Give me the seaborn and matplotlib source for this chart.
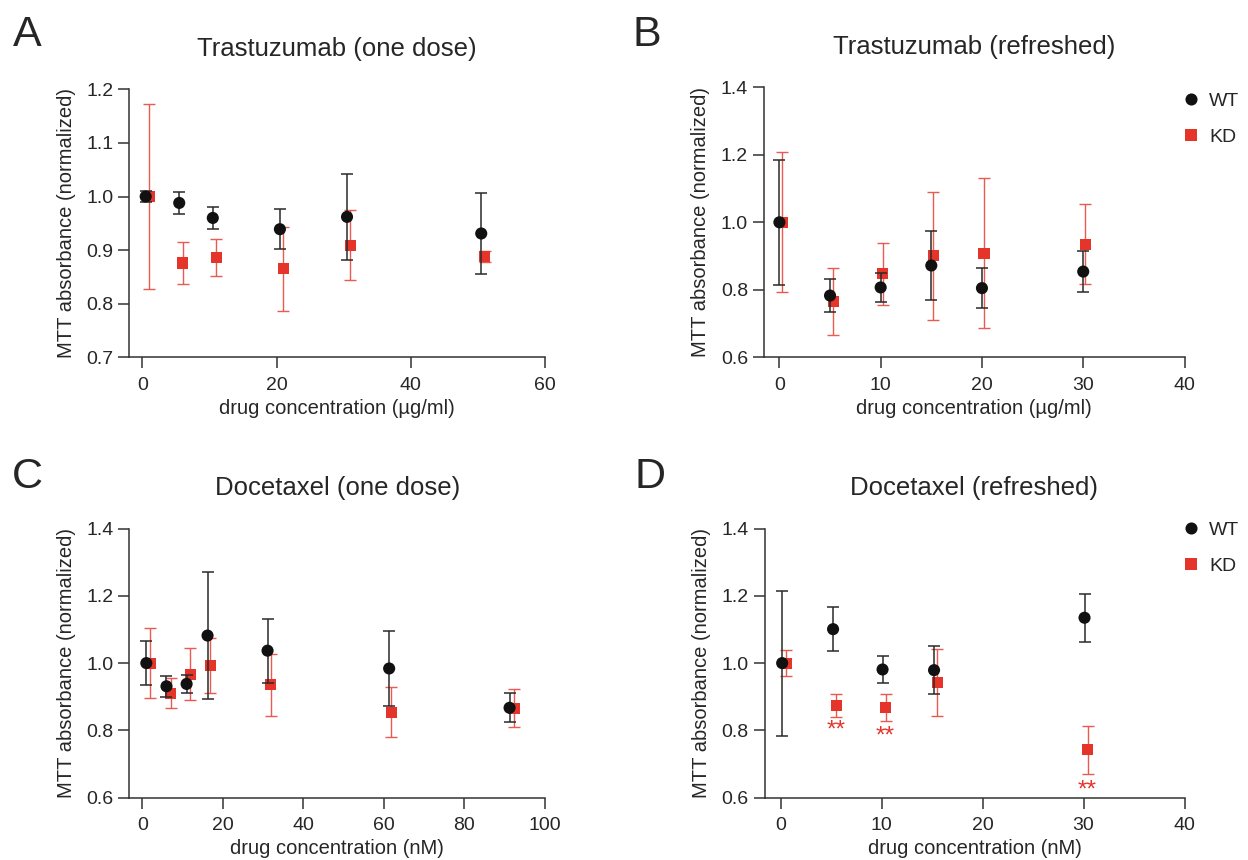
import matplotlib
matplotlib.use('Agg')
import matplotlib.pyplot as plt
import numpy as np
import pandas as pd
import seaborn as sns
from matplotlib.lines import Line2D

# A: Trastuzumab (one dose)
a_wt_x = [0.5, 5.5, 10.5, 20.5, 30.5, 50.5]
a_wt_y = [1.000, 0.988, 0.960, 0.939, 0.962, 0.931]
a_wt_err = [0.010, 0.020, 0.020, 0.037, 0.080, 0.076]
a_kd_x = [1, 6, 11, 21, 31, 51]
a_kd_y = [1.000, 0.876, 0.886, 0.865, 0.909, 0.888]
a_kd_err = [0.172, 0.040, 0.034, 0.079, 0.065, 0.010]

# B: Trastuzumab (refreshed)
b_wt_x = [0, 5, 10, 15, 20, 30]
b_wt_y = [1.000, 0.783, 0.807, 0.872, 0.805, 0.854]
b_wt_err = [0.186, 0.050, 0.042, 0.103, 0.060, 0.060]
b_kd_x = [0.3, 5.3, 10.2, 15.2, 20.2, 30.2]
b_kd_y = [1.000, 0.765, 0.847, 0.901, 0.908, 0.935]
b_kd_err = [0.207, 0.099, 0.092, 0.190, 0.222, 0.118]

# C: Docetaxel (one dose)
c_wt_x = [1, 6, 11, 16.2, 31.1, 61.3, 91.2]
c_wt_y = [1.000, 0.931, 0.938, 1.082, 1.037, 0.984, 0.867]
c_wt_err = [0.065, 0.032, 0.028, 0.190, 0.095, 0.111, 0.043]
c_kd_x = [2, 7.1, 11.9, 16.9, 31.9, 61.8, 92.3]
c_kd_y = [1.000, 0.910, 0.967, 0.993, 0.935, 0.854, 0.866]
c_kd_err = [0.104, 0.045, 0.078, 0.081, 0.092, 0.074, 0.057]

# D: Docetaxel (refreshed)
d_wt_x = [0.16, 5.2, 10.1, 15.2, 30.1]
d_wt_y = [1.000, 1.101, 0.981, 0.979, 1.135]
d_wt_err = [0.216, 0.066, 0.041, 0.071, 0.072]
d_kd_x = [0.55, 5.5, 10.4, 15.5, 30.4]
d_kd_y = [1.000, 0.875, 0.868, 0.943, 0.742]
d_kd_err = [0.039, 0.034, 0.040, 0.099, 0.071]
d_star_idx = [1, 2, 4]
d_star_y = [0.800, 0.781, 0.621]

titles = ['Trastuzumab (one dose)', 'Trastuzumab (refreshed)',
          'Docetaxel (one dose)', 'Docetaxel (refreshed)']
letters = ['A', 'B', 'C', 'D']
xlabels = ['drug concentration (µg/ml)', 'drug concentration (µg/ml)',
           'drug concentration (nM)', 'drug concentration (nM)']
ylabel = 'MTT absorbance (normalized)'

WT_COL = '#111111'
KD_COL = '#E5352B'
KD_ERR = '#EA5A50'


def make_df(wx, wy, we, kx, ky, ke):
    wt = pd.DataFrame({'conc': wx, 'mtt': wy, 'err': we, 'group': 'WT'})
    kd = pd.DataFrame({'conc': kx, 'mtt': ky, 'err': ke, 'group': 'KD'})
    return pd.concat([wt, kd], ignore_index=True)


panels = [
    make_df(a_wt_x, a_wt_y, a_wt_err, a_kd_x, a_kd_y, a_kd_err),
    make_df(b_wt_x, b_wt_y, b_wt_err, b_kd_x, b_kd_y, b_kd_err),
    make_df(c_wt_x, c_wt_y, c_wt_err, c_kd_x, c_kd_y, c_kd_err),
    make_df(d_wt_x, d_wt_y, d_wt_err, d_kd_x, d_kd_y, d_kd_err),
]

sns.set_style('ticks')
plt.rcParams['font.family'] = ['Liberation Sans', 'DejaVu Sans']

fig = plt.figure(figsize=(12.48, 8.6), dpi=100)
W, H = 1248, 860

# axes boxes in pixels: left, right, top, bottom
boxes = [(129.3, 545.0, 89.3, 357.3),
         (764.0, 1184.5, 87.3, 357.3),
         (129.3, 545.0, 528.7, 797.5),
         (764.5, 1184.5, 528.7, 797.5)]
xlims = [(-1.94, 60), (-1.52, 40), (-3.23, 100), (-1.59, 40)]
ylims = [(0.7, 1.2), (0.6, 1.4), (0.6, 1.4), (0.6, 1.4)]
xticks = [np.arange(0, 61, 20), np.arange(0, 41, 10), np.arange(0, 101, 20), np.arange(0, 41, 10)]
yticks = [np.arange(0.7, 1.21, 0.1), np.arange(0.6, 1.41, 0.2), np.arange(0.6, 1.41, 0.2), np.arange(0.6, 1.41, 0.2)]
letter_pos = [(13, 46), (632, 46), (12, 488), (634, 488)]

axes = []
for i, df in enumerate(panels):
    l, r, t, b = boxes[i]
    ax = fig.add_axes([l / W, (H - b) / H, (r - l) / W, (b - t) / H])
    axes.append(ax)
    kd = df[df.group == 'KD']
    wt = df[df.group == 'WT']
    ax.errorbar(kd.conc, kd.mtt, yerr=kd.err, fmt='none', ecolor=KD_ERR,
                elinewidth=1.0, capsize=4.5, capthick=1.0, zorder=2)
    sns.scatterplot(data=kd, x='conc', y='mtt', marker='s', color=KD_COL,
                    s=64, edgecolor='none', ax=ax, zorder=3, legend=False)
    ax.errorbar(wt.conc, wt.mtt, yerr=wt.err, fmt='none', ecolor='#2a2a2a',
                elinewidth=1.1, capsize=4.5, capthick=1.1, zorder=4)
    sns.scatterplot(data=wt, x='conc', y='mtt', marker='o', color=WT_COL,
                    s=76, edgecolor='none', ax=ax, zorder=5, legend=False)

    ax.set_xlim(xlims[i])
    ax.set_ylim(ylims[i])
    ax.set_xticks(xticks[i])
    ax.set_yticks(yticks[i])
    ax.set_yticklabels([f'{v:.1f}' for v in yticks[i]])
    ax.tick_params(axis='both', labelsize=14, length=8, width=1.1, color='#333333')
    ax.tick_params(axis='x', pad=6)
    ax.tick_params(axis='y', pad=3.5)
    for s in ['left', 'bottom']:
        ax.spines[s].set_color('#333333')
        ax.spines[s].set_linewidth(1.1)
    sns.despine(ax=ax)
    ax.set_xlabel(xlabels[i], fontsize=14.5, labelpad=3.5)
    ax.set_ylabel(ylabel, fontsize=14.5, labelpad=7.5)
    ax.set_title(titles[i], fontsize=18.5, pad=24)
    lx, ly = letter_pos[i]
    fig.text(lx / W, (H - ly) / H, letters[i], fontsize=31, ha='left', va='baseline')

# significance stars on panel D
for j, yv in zip(d_star_idx, d_star_y):
    axes[3].text(d_kd_x[j], yv, '**', color=KD_COL, fontsize=17.5,
                 ha='center', va='center')

# legends for refreshed panels
handles = [Line2D([], [], marker='o', ls='none', color=WT_COL, markersize=8.7, markeredgewidth=0),
           Line2D([], [], marker='s', ls='none', color=KD_COL, markersize=8.0, markeredgewidth=0)]
for i, ytop in [(1, 92), (3, 521)]:
    axes[i].legend(handles, ['WT', 'KD'], loc='upper left',
                   bbox_to_anchor=(1183 / W, (H - ytop) / H),
                   bbox_transform=fig.transFigure, frameon=False, fontsize=14,
                   handlelength=0.8, handletextpad=0.55, labelspacing=0.95,
                   borderpad=0, borderaxespad=0)

fig.savefig('out.png', dpi=100)
